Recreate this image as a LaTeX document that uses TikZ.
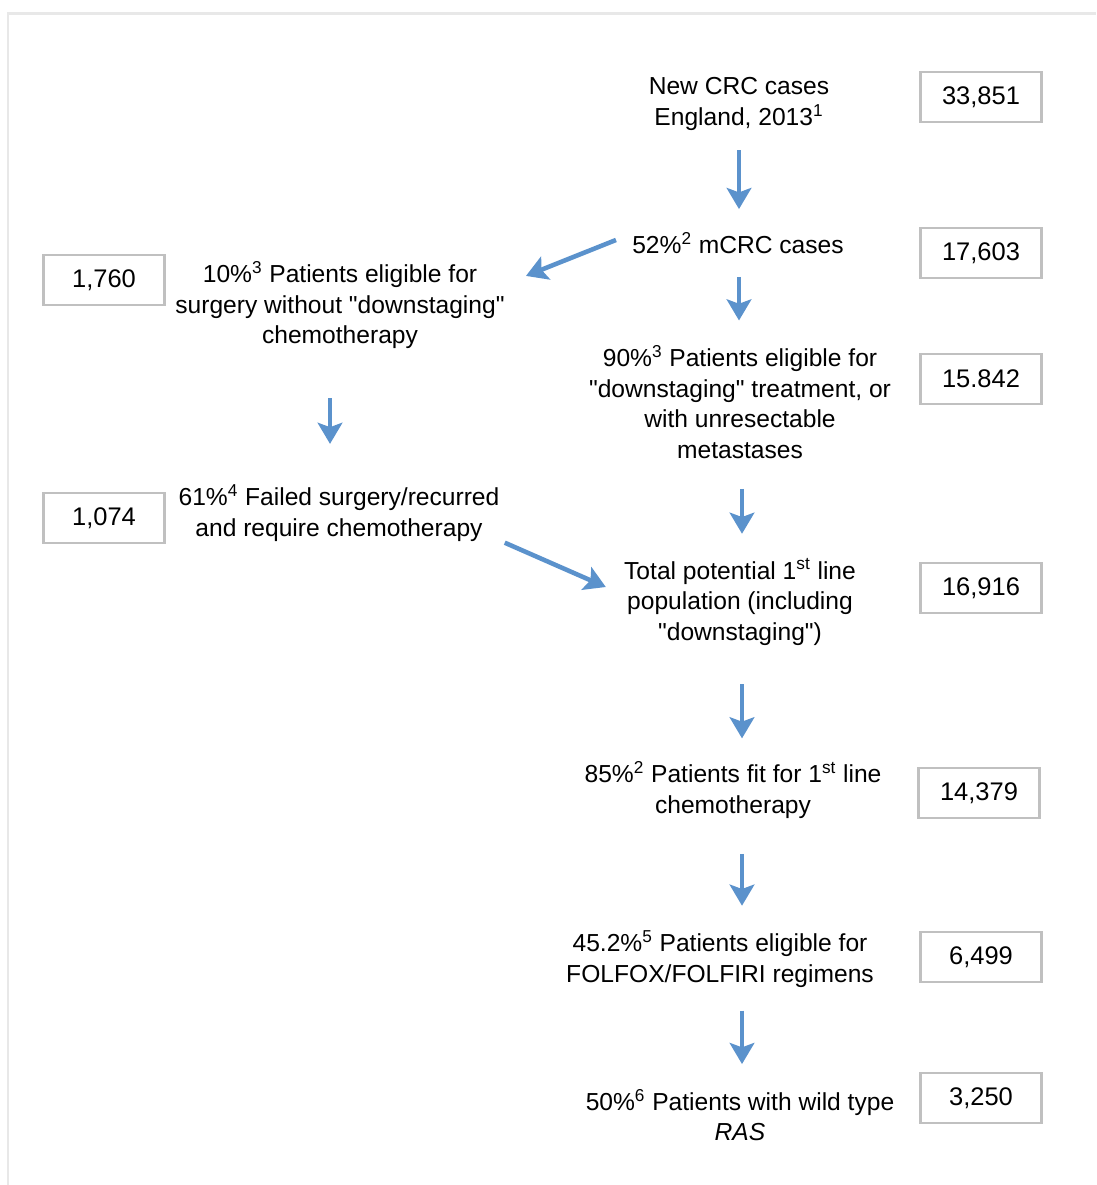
\documentclass[tikz,border=0pt]{standalone}
\usepackage{fontspec}
\setmainfont{Liberation Sans}[Ligatures=TeXOff]
\usetikzlibrary{arrows.meta,positioning,calc}
\definecolor{flowblue}{RGB}{91,146,204}
\definecolor{boxgray}{RGB}{192,192,192}
\definecolor{framegray}{RGB}{232,232,232}
\newcommand{\sps}[1]{\textsuperscript{#1}}

\begin{document}
\begin{tikzpicture}[x=0.02cm, y=-0.02cm,
  txt/.style={align=center, inner sep=0pt, font=\fontsize{14}{17.4}\selectfont},
  num/.style={draw=boxgray, line width=1.2pt, minimum width=2.42cm, minimum height=1.0cm, inner sep=0pt, font=\fontsize{14.5}{16}\selectfont},
  arr/.style={draw=flowblue, line width=2.6pt, -{Stealth[length=12pt,width=14pt,inset=2.5pt]}}]
\useasboundingbox (0,0) rectangle (1096,1185);
\draw[framegray, line width=1.7pt] (8,1185) -- (8,14) -- (1096,14);
% flow texts
\node[txt] (n) at (739,104) {New CRC cases\\England, 2013\sps{1}};
\node[txt] (m) at (738,243) {52\%\sps{2} mCRC cases};
\node[txt] (s) at (340,305) {10\%\sps{3} Patients eligible for\\surgery without "downstaging"\\chemotherapy};
\node[txt] (d) at (740,402) {90\%\sps{3} Patients eligible for\\"downstaging" treatment, or\\with unresectable\\metastases};
\node[txt] (r) at (339,513) {61\%\sps{4} Failed surgery/recurred\\and require chemotherapy};
\node[txt] (t) at (740,602) {Total potential 1\sps{st} line\\population (including\\"downstaging")};
\node[txt] (p) at (733,790) {85\%\sps{2} Patients fit for 1\sps{st} line\\chemotherapy};
\node[txt] (ff) at (720,959) {45.2\%\sps{5} Patients eligible for\\FOLFOX/FOLFIRI regimens};
\node[txt] (w) at (740,1115) {50\%\sps{6} Patients with wild type\\\textit{RAS}};
% patient numbers
\node[num] (n1) at (981,97) {33,851};
\node[num] (m1) at (981,253) {17,603};
\node[num] (d1) at (981,379) {15.842};
\node[num] (t1) at (981,588) {16,916};
\node[num] (p1) at (979,793) {14,379};
\node[num] (ff1) at (981,957) {6,499};
\node[num] (w1) at (981,1098) {3,250};
\node[num] (s1) at (104,280) {1,760};
\node[num] (r1) at (104,518) {1,074};
% arrow columns
\coordinate (ca) at (739,0);
\coordinate (cb) at (742,0);
\coordinate (cl) at (330,0);
\draw[arr, shorten <=11pt, shorten >=13pt] (n.south -| ca) -- (m.north -| ca);
\draw[arr, shorten <=13pt, shorten >=14pt] (m.south -| ca) -- (d.north -| ca);
\draw[arr, shorten <=28pt, shorten >=23pt] (s.south -| cl) -- (r.north -| cl);
\draw[arr, shorten <=17pt, shorten >=14pt] (d.south -| cb) -- (t.north -| cb);
\draw[arr, shorten <=22pt, shorten >=13pt] (t.south -| cb) -- (p.north -| cb);
\draw[arr, shorten <=20pt, shorten >=14pt] (p.south -| cb) -- (ff.north -| cb);
\draw[arr, shorten <=13pt, shorten >=14pt] (ff.south -| cb) -- (w.north -| cb);
\draw[arr] ([shift={(-16,-3)}]m.west) -- ([shift={(21,15)}]s.north east);
\draw[arr] ([shift={(5,1)}]r.south east) -- ([shift={(-18,-15)}]t.west);
\end{tikzpicture}
\end{document}
